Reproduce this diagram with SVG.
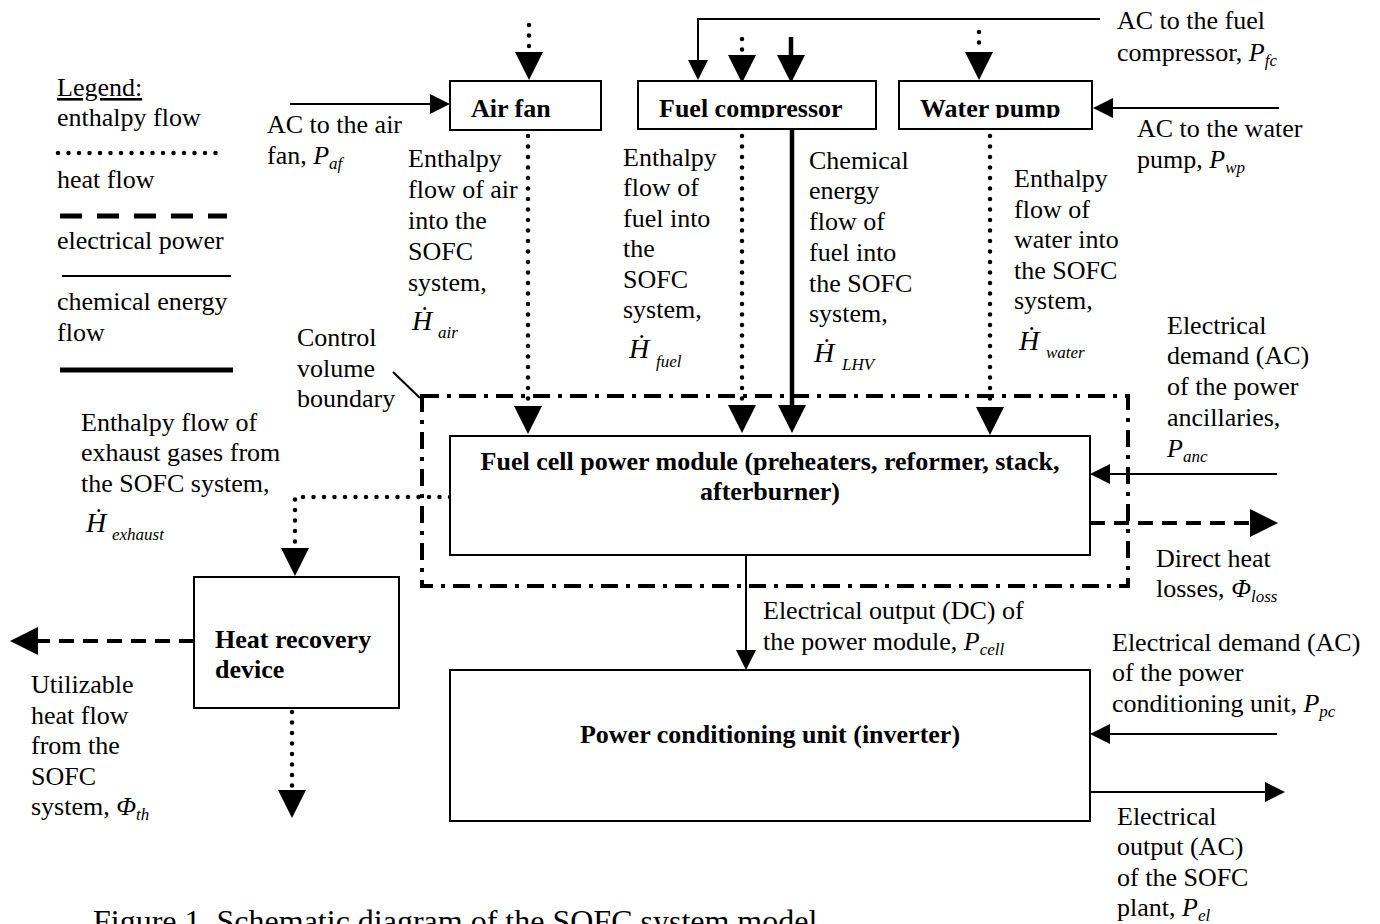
<svg xmlns="http://www.w3.org/2000/svg" width="1380" height="924" viewBox="0 0 1380 924">
<style>
text{font-family:"Liberation Serif","DejaVu Serif","Times New Roman",serif;font-size:26px;fill:#000}
.b{font-weight:bold}
.i{font-style:italic}
.sub{font-style:italic;font-size:17px}
.H{font-style:italic;font-size:28px}
.box{fill:#fff;stroke:#000;stroke-width:2}
.thin{fill:none;stroke:#000;stroke-width:2}
.thick{fill:none;stroke:#000;stroke-width:4.5}
.dot{fill:none;stroke:#000;stroke-width:4.5;stroke-linecap:round;stroke-dasharray:0 10.5}
.dash{fill:none;stroke:#000;stroke-width:4;stroke-dasharray:15 9}
.ldash{fill:none;stroke:#000;stroke-width:5;stroke-dasharray:22 15}
.cv{fill:none;stroke:#000;stroke-width:4;stroke-dasharray:17 8 4 8}
</style>
<defs>
<marker id="aS" markerUnits="userSpaceOnUse" viewBox="0 0 20 20" refX="0" refY="10" markerWidth="20" markerHeight="20" orient="auto"><path d="M0,0 L20,10 L0,20 z" fill="#000"/></marker>
<marker id="aL" markerUnits="userSpaceOnUse" viewBox="0 0 28 28" refX="0" refY="14" markerWidth="28" markerHeight="28" orient="auto"><path d="M0,0 L28,14 L0,28 z" fill="#000"/></marker>
<clipPath id="topclip"><rect x="0" y="0" width="1380" height="118"/></clipPath>
</defs>

<g id="legend">
<text x="57" y="96" text-decoration="underline">Legend:</text>
<text x="57" y="126">enthalpy flow</text>
<path class="dot" d="M58,153 H226"/>
<text x="57" y="188">heat flow</text>
<path class="ldash" d="M60,216 H227"/>
<text x="57" y="249">electrical power</text>
<path class="thin" d="M62,276 H231"/>
<text x="57" y="310">chemical energy</text>
<text x="57" y="341">flow</text>
<path fill="none" stroke="#000" stroke-width="5" d="M60,370 H233"/>
</g>

<g id="control-volume">
<rect class="cv" x="422" y="396" width="706" height="190"/>
<path class="thin" d="M393,372 L420,398"/>
<text x="297" y="346">Control</text>
<text x="297" y="377">volume</text>
<text x="297" y="407">boundary</text>
</g>

<g id="connectors">
<path class="dot" d="M529,25 V52" marker-end="url(#aL)"/>
<path class="thin" d="M290,104 H430" marker-end="url(#aS)"/>
<path class="dot" d="M528,136 V406" marker-end="url(#aL)"/>
<path class="thin" d="M1100,19 H698 V60" marker-end="url(#aS)"/>
<path class="dot" d="M742,39 V55" marker-end="url(#aL)"/>
<path class="thick" d="M791,37 V55" marker-end="url(#aL)"/>
<path class="dot" d="M742,136 V405" marker-end="url(#aL)"/>
<path class="thick" d="M792,130 V405" marker-end="url(#aL)"/>
<path class="dot" d="M979,32 V52" marker-end="url(#aL)"/>
<path class="thin" d="M1279,108 H1113" marker-end="url(#aS)"/>
<path class="dot" d="M990,136 V407" marker-end="url(#aL)"/>
<path class="dot" d="M450,497 H295 V548" marker-end="url(#aL)"/>
<path class="thin" d="M1277,474 H1110" marker-end="url(#aS)"/>
<path class="dash" d="M1090,523 H1250" marker-end="url(#aL)"/>
<path class="thin" d="M746,555 V650" marker-end="url(#aS)"/>
<path class="dash" d="M194,641 H38" marker-end="url(#aL)"/>
<path class="dot" d="M292,712 V790" marker-end="url(#aL)"/>
<path class="thin" d="M1277,734 H1110" marker-end="url(#aS)"/>
<path class="thin" d="M1090,792 H1265" marker-end="url(#aS)"/>
</g>

<g id="air-fan">
<rect class="box" x="450" y="81" width="151" height="49"/>
<text class="b" x="471" y="117" clip-path="url(#topclip)">Air fan</text>
</g>
<g id="fuel-compressor">
<rect class="box" x="638" y="81" width="238" height="48"/>
<text class="b" x="659" y="117" clip-path="url(#topclip)">Fuel compressor</text>
</g>
<g id="water-pump">
<rect class="box" x="899" y="81" width="193" height="48"/>
<text class="b" x="920" y="117" clip-path="url(#topclip)">Water pump</text>
</g>
<g id="fuel-cell-power-module">
<rect class="box" x="450" y="436" width="640" height="119"/>
<text class="b" x="770" y="470" text-anchor="middle">Fuel cell power module (preheaters, reformer, stack,</text>
<text class="b" x="770" y="500" text-anchor="middle">afterburner)</text>
</g>
<g id="heat-recovery-device">
<rect class="box" x="194" y="577" width="205" height="131"/>
<text class="b" x="215" y="648">Heat recovery</text>
<text class="b" x="215" y="678">device</text>
</g>
<g id="power-conditioning-unit">
<rect class="box" x="450" y="670" width="640" height="151"/>
<text class="b" x="770" y="743" text-anchor="middle">Power conditioning unit (inverter)</text>
</g>

<g id="labels">
<text x="267" y="133">AC to the air</text>
<text x="267" y="164">fan, <tspan class="i">P</tspan><tspan class="sub" dy="5">af</tspan></text>

<text x="408" y="167">Enthalpy</text>
<text x="408" y="198">flow of air</text>
<text x="408" y="229">into the</text>
<text x="408" y="260">SOFC</text>
<text x="408" y="291">system,</text>
<text x="412" y="330"><tspan class="H">Ḣ</tspan><tspan class="sub" x="438" y="338">air</tspan></text>

<text x="623" y="166">Enthalpy</text>
<text x="623" y="196">flow of</text>
<text x="623" y="227">fuel into</text>
<text x="623" y="257">the</text>
<text x="623" y="288">SOFC</text>
<text x="623" y="318">system,</text>
<text x="629" y="358"><tspan class="H">Ḣ</tspan><tspan class="sub" x="656" y="367">fuel</tspan></text>

<text x="809" y="169">Chemical</text>
<text x="809" y="199">energy</text>
<text x="809" y="230">flow of</text>
<text x="809" y="261">fuel into</text>
<text x="809" y="292">the SOFC</text>
<text x="809" y="322">system,</text>
<text x="814" y="362"><tspan class="H">Ḣ</tspan><tspan class="sub" x="842" y="370">LHV</tspan></text>

<text x="1014" y="187">Enthalpy</text>
<text x="1014" y="218">flow of</text>
<text x="1014" y="248">water into</text>
<text x="1014" y="279">the SOFC</text>
<text x="1014" y="309">system,</text>
<text x="1019" y="350"><tspan class="H">Ḣ</tspan><tspan class="sub" x="1046" y="358">water</tspan></text>

<text x="1117" y="29">AC to the fuel</text>
<text x="1117" y="61">compressor, <tspan class="i">P</tspan><tspan class="sub" dy="5">fc</tspan></text>

<text x="1137" y="137">AC to the water</text>
<text x="1137" y="168">pump, <tspan class="i">P</tspan><tspan class="sub" dy="5">wp</tspan></text>

<text x="1167" y="334">Electrical</text>
<text x="1167" y="364">demand (AC)</text>
<text x="1167" y="395">of the power</text>
<text x="1167" y="426">ancillaries,</text>
<text x="1167" y="457"><tspan class="i">P</tspan><tspan class="sub" dy="5">anc</tspan></text>

<text x="81" y="431">Enthalpy flow of</text>
<text x="81" y="461">exhaust gases from</text>
<text x="81" y="492">the SOFC system,</text>
<text x="86" y="532"><tspan class="H">Ḣ</tspan><tspan class="sub" x="112" y="540">exhaust</tspan></text>

<text x="1156" y="567">Direct heat</text>
<text x="1156" y="597">losses, <tspan class="i">Φ</tspan><tspan class="sub" dy="5">loss</tspan></text>

<text x="763" y="619">Electrical output (DC) of</text>
<text x="763" y="650">the power module, <tspan class="i">P</tspan><tspan class="sub" dy="5">cell</tspan></text>

<text x="1112" y="651">Electrical demand (AC)</text>
<text x="1112" y="681">of the power</text>
<text x="1112" y="712">conditioning unit, <tspan class="i">P</tspan><tspan class="sub" dy="5">pc</tspan></text>

<text x="31" y="693">Utilizable</text>
<text x="31" y="724">heat flow</text>
<text x="31" y="754">from the</text>
<text x="31" y="785">SOFC</text>
<text x="31" y="815">system, <tspan class="i">Φ</tspan><tspan class="sub" dy="5">th</tspan></text>

<text x="1117" y="825">Electrical</text>
<text x="1117" y="855">output (AC)</text>
<text x="1117" y="886">of the SOFC</text>
<text x="1117" y="916">plant, <tspan class="i">P</tspan><tspan class="sub" dy="5">el</tspan></text>

<text x="93" y="932" style="font-size:32px">Figure 1.  Schematic diagram of the SOFC system model</text>
</g>
</svg>
